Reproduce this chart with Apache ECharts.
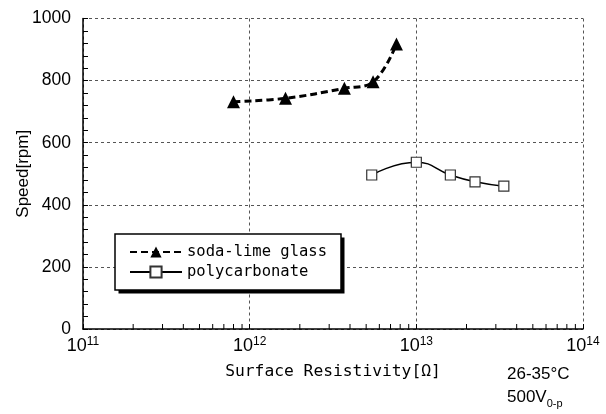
<!DOCTYPE html>
<html>
<head>
<meta charset="utf-8">
<script src="https://cdn.jsdelivr.net/npm/echarts@6/dist/echarts.min.js"></script>
<style>
  html, body { margin: 0; padding: 0; background: #fff; }
  #chart { width: 606px; height: 414px; }
</style>
</head>
<body>
<div id="chart"></div>
<script>
// data
var sodaX = [8.0e11, 1.64e12, 3.7e12, 5.5e12, 7.6e12];
var sodaY = [732, 743, 775, 796, 918];
var polyX = [5.4e12, 1.0e13, 1.6e13, 2.25e13, 3.35e13];
var polyY = [496, 537, 496, 474, 460];
var seriesNames = ['soda-lime glass', 'polycarbonate'];
// log minor tick values (2..9 per decade)
var minorX = [2e11, 3e11, 4e11, 5e11, 6e11, 7e11, 8e11, 9e11,
              2e12, 3e12, 4e12, 5e12, 6e12, 7e12, 8e12, 9e12,
              2e13, 3e13, 4e13, 5e13, 6e13, 7e13, 8e13, 9e13];

function pairs(xs, ys) {
  var out = [];
  for (var i = 0; i < xs.length; i++) out.push([xs[i], ys[i]]);
  return out;
}

var myChart = echarts.init(document.getElementById('chart'));
var gridDash = { color: '#555', type: [3, 3], width: 1 };
var option = {
  animation: false,
  grid: { left: 83, right: 23, top: 18.5, bottom: 85, containLabel: false, outerBoundsMode: 'none' },
  legend: {
    data: seriesNames,
    orient: 'vertical',
    left: 115,
    top: 234,
    padding: [10, 10, 9, 14],
    itemWidth: 52,
    itemHeight: 14,
    itemGap: 4,
    textStyle: {
      fontFamily: 'DejaVu Sans Mono',
      fontSize: 15.5,
      lineHeight: 16,
      color: '#000'
    },
    z: 10
  },
  xAxis: {
    type: 'log',
    logBase: 10,
    min: 1e11,
    max: 1e14,
    name: 'Surface Resistivity[Ω]',
    nameLocation: 'middle',
    nameGap: 35,
    nameMoveOverlap: false,
    nameTextStyle: { fontFamily: 'DejaVu Sans Mono', fontSize: 16.3, color: '#000' },
    axisLine: { lineStyle: { color: '#000', width: 1.5 } },
    axisTick: { inside: true, length: 5, lineStyle: { color: '#000' } },
    splitLine: { show: true, lineStyle: gridDash },
    axisLabel: {
      margin: 7,
      formatter: function (v) {
        return '{a|10}{b|' + Math.round(Math.log(v) / Math.LN10) + '}';
      },
      rich: {
        a: { fontFamily: 'Liberation Sans', fontSize: 18, color: '#000' },
        b: { fontFamily: 'Liberation Sans', fontSize: 12, color: '#000', padding: [0, 0, 9, 0] }
      }
    }
  },
  yAxis: {
    type: 'value',
    min: 0,
    max: 1000,
    interval: 200,
    name: 'Speed[rpm]',
    nameLocation: 'middle',
    nameGap: 51,
    nameMoveOverlap: false,
    nameTextStyle: { fontFamily: 'Liberation Sans', fontSize: 17, color: '#000' },
    axisLine: { show: true, lineStyle: { color: '#000', width: 1.5 } },
    axisTick: { show: true, inside: true, length: 5, lineStyle: { color: '#000' } },
    minorTick: { show: true, splitNumber: 5, length: 5, lineStyle: { color: '#000' } },
    splitLine: { show: true, lineStyle: gridDash },
    axisLabel: {
      margin: 12, fontFamily: 'Liberation Sans', fontSize: 17.5, color: '#000',
      formatter: function (v) { return String(v); }
    }
  },
  graphic: [
    // legend frame with drop shadow
    {
      type: 'rect', z: 5,
      shape: { x: 118.5, y: 237.5, width: 226, height: 56 },
      style: { fill: '#000' }
    },
    {
      type: 'rect', z: 6,
      shape: { x: 115, y: 234, width: 226, height: 56 },
      style: { fill: '#fff', stroke: '#000', lineWidth: 1.5 }
    },
    {
      type: 'text', left: 507, top: 366,
      style: { text: '26-35°C', font: '17px "Liberation Sans"', fill: '#000' }
    },
    {
      type: 'text', left: 507, top: 389,
      style: {
        text: '{a|500V}{s|0-p}',
        rich: {
          a: { fontFamily: 'Liberation Sans', fontSize: 17, color: '#000' },
          s: { fontFamily: 'Liberation Sans', fontSize: 11, color: '#000', padding: [12, 0, 0, 0] }
        }
      }
    }
  ],
  series: [
    {
      name: seriesNames[0],
      type: 'line',
      data: pairs(sodaX, sodaY),
      smooth: 0.4,
      symbol: 'triangle',
      symbolSize: 13,
      itemStyle: { color: '#000' },
      lineStyle: { color: '#000', width: 3, type: [7, 4] },
      z: 2
    },
    {
      name: seriesNames[1],
      type: 'line',
      data: pairs(polyX, polyY),
      smooth: 0.5,
      symbol: 'rect',
      symbolSize: 10,
      showAllSymbol: true,
      itemStyle: { color: '#fff', borderColor: '#333', borderWidth: 1.2 },
      lineStyle: { color: '#000', width: 1.5 },
      z: 2
    },
    {
      name: 'minor',
      type: 'custom',
      silent: true,
      data: minorX.map(function (v) { return [v, 0]; }),
      encode: { x: 0, y: 1 },
      renderItem: function (params, api) {
        var p = api.coord([api.value(0), 0]);
        return {
          type: 'line',
          shape: { x1: p[0], y1: p[1], x2: p[0], y2: p[1] - 5 },
          style: { stroke: '#000', lineWidth: 1 }
        };
      },
      z: 3
    }
  ]
};
myChart.setOption(option);
</script>
</body>
</html>
